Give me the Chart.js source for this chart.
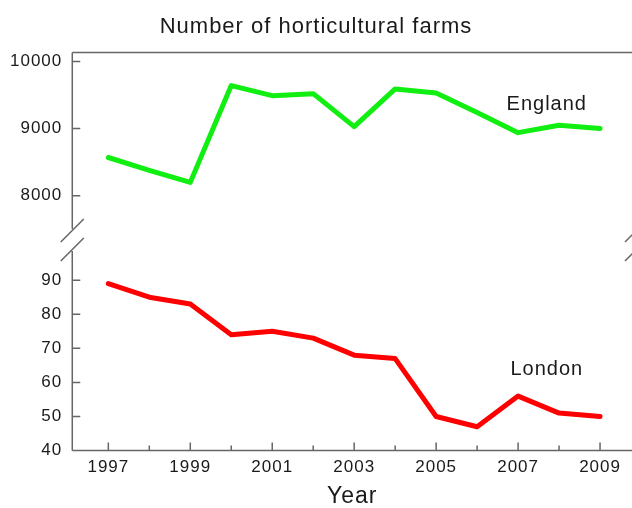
<!DOCTYPE html>
<html>
<head>
<meta charset="utf-8">
<script src="https://cdn.jsdelivr.net/npm/chart.js@4/dist/chart.umd.min.js"></script>
<style>body{margin:0;background:#fff}</style>
</head>
<body>
<canvas id="graficoGranjas" width="632" height="508"></canvas>
<script>
// datos
const anios = [1997, 1998, 1999, 2000, 2001, 2002, 2003, 2004, 2005, 2006, 2007, 2008, 2009];
const inglaterra = [8570, 8380, 8200, 9640, 9490, 9520, 9030, 9590, 9530, 9240, 8940, 9050, 9000];
const londres = [89, 85, 83, 74, 75, 73, 68, 67, 50, 47, 56, 51, 50];
const ticksArriba = [8000, 9000, 10000];
const ticksAbajo = [40, 50, 60, 70, 80, 90];

const colorTexto = '#1a1a1a';
const colorEje = '#666';

function puntos(valores) {
    return anios.map((a, i) => ({ x: a, y: valores[i] }));
}

// ejes dibujados a mano: marcas hacia dentro y el corte del eje Y
const ejesRotos = {
    id: 'ejesRotos',
    beforeUpdate(chart) { chart.ctx.letterSpacing = '1px'; },
    beforeDraw(chart) { chart.ctx.letterSpacing = '1px'; },
    afterDraw(chart) {
        const { ctx, chartArea: a, scales } = chart;
        const xs = scales.x, yT = scales.yTop, yB = scales.yBot;
        const corte = yT.bottom;
        ctx.save();
        ctx.strokeStyle = colorEje;
        ctx.lineWidth = 1.5;
        ctx.beginPath();
        ctx.moveTo(a.left, a.top); ctx.lineTo(a.right, a.top);
        ctx.moveTo(a.left, a.bottom); ctx.lineTo(a.right, a.bottom);
        ctx.moveTo(a.left, a.top); ctx.lineTo(a.left, corte - 11);
        ctx.moveTo(a.left, corte + 11); ctx.lineTo(a.left, a.bottom);
        for (const dy of [-9.5, 9.5]) {
            for (const x0 of [a.left, a.right + 4.5]) {
                ctx.moveTo(x0 - 11.5, corte + dy + 11.5);
                ctx.lineTo(x0 + 11.5, corte + dy - 11.5);
            }
        }
        for (const v of ticksArriba) {
            const y = yT.getPixelForValue(v);
            ctx.moveTo(a.left, y); ctx.lineTo(a.left + 8, y);
        }
        for (const v of ticksAbajo) {
            const y = yB.getPixelForValue(v);
            ctx.moveTo(a.left, y); ctx.lineTo(a.left + 8, y);
        }
        for (const v of anios) {
            const x = xs.getPixelForValue(v);
            ctx.moveTo(x, a.bottom); ctx.lineTo(x, a.bottom - (v % 2 ? 8 : 5));
        }
        ctx.stroke();

        ctx.fillStyle = colorTexto;
        ctx.font = '20px "Liberation Sans", Arial, sans-serif';
        ctx.textAlign = 'center';
        ctx.textBaseline = 'middle';
        ctx.fillText('England', xs.getPixelForValue(2007.7), yT.getPixelForValue(9360));
        ctx.fillText('London', xs.getPixelForValue(2007.7), yB.getPixelForValue(63.7));
        ctx.restore();
    }
};

Chart.defaults.font.family = '"Liberation Sans", Arial, sans-serif';
Chart.defaults.color = colorTexto;

const ctx = document.getElementById('graficoGranjas').getContext('2d');
new Chart(ctx, {
    type: 'line',
    data: {
        datasets: [{
            label: 'London',
            data: puntos(londres),
            yAxisID: 'yBot',
            borderColor: '#ff0000',
            borderWidth: 5,
            pointRadius: 0,
            tension: 0,
            borderCapStyle: 'round',
            borderJoinStyle: 'round'
        }, {
            label: 'England',
            data: puntos(inglaterra),
            yAxisID: 'yTop',
            borderColor: '#11ee11',
            borderWidth: 5,
            pointRadius: 0,
            tension: 0,
            borderCapStyle: 'round',
            borderJoinStyle: 'round'
        }]
    },
    options: {
        responsive: false,
        animation: false,
        layout: { padding: { left: 0, right: 0, top: 0, bottom: 0 } },
        scales: {
            x: {
                type: 'linear',
                min: 1996.12,
                max: 2009.78,
                afterBuildTicks: s => { s.ticks = anios.map(v => ({ value: v })); },
                grid: { display: false, drawTicks: false },
                border: { display: false },
                ticks: {
                    padding: 7,
                    maxRotation: 0,
                    autoSkip: false,
                    font: { size: 17 },
                    callback: v => (v % 2 ? String(v) : '')
                },
                title: {
                    display: true,
                    text: 'Year',
                    font: { size: 23, lineHeight: 1 },
                    padding: { top: 0, bottom: 0 }
                }
            },
            yBot: {
                type: 'linear',
                position: 'left',
                stack: 'y',
                stackWeight: 210,
                min: 40,
                max: 101.8,
                afterBuildTicks: s => { s.ticks = ticksAbajo.map(v => ({ value: v })); },
                grid: { display: false, drawTicks: false },
                border: { display: false },
                ticks: { padding: 10, font: { size: 17 }, callback: v => String(v) }
            },
            yTop: {
                type: 'linear',
                position: 'left',
                stack: 'y',
                stackWeight: 187,
                min: 7343,
                max: 10134,
                afterBuildTicks: s => { s.ticks = ticksArriba.map(v => ({ value: v })); },
                grid: { display: false, drawTicks: false },
                border: { display: false },
                ticks: { padding: 10, font: { size: 17 }, callback: v => String(v) }
            }
        },
        plugins: {
            legend: { display: false },
            tooltip: { enabled: false },
            title: {
                display: true,
                text: 'Number of horticultural farms',
                font: { size: 22, weight: 'normal' },
                color: colorTexto,
                padding: { top: 14, bottom: 12 }
            }
        }
    },
    plugins: [ejesRotos]
});
</script>
</body>
</html>
